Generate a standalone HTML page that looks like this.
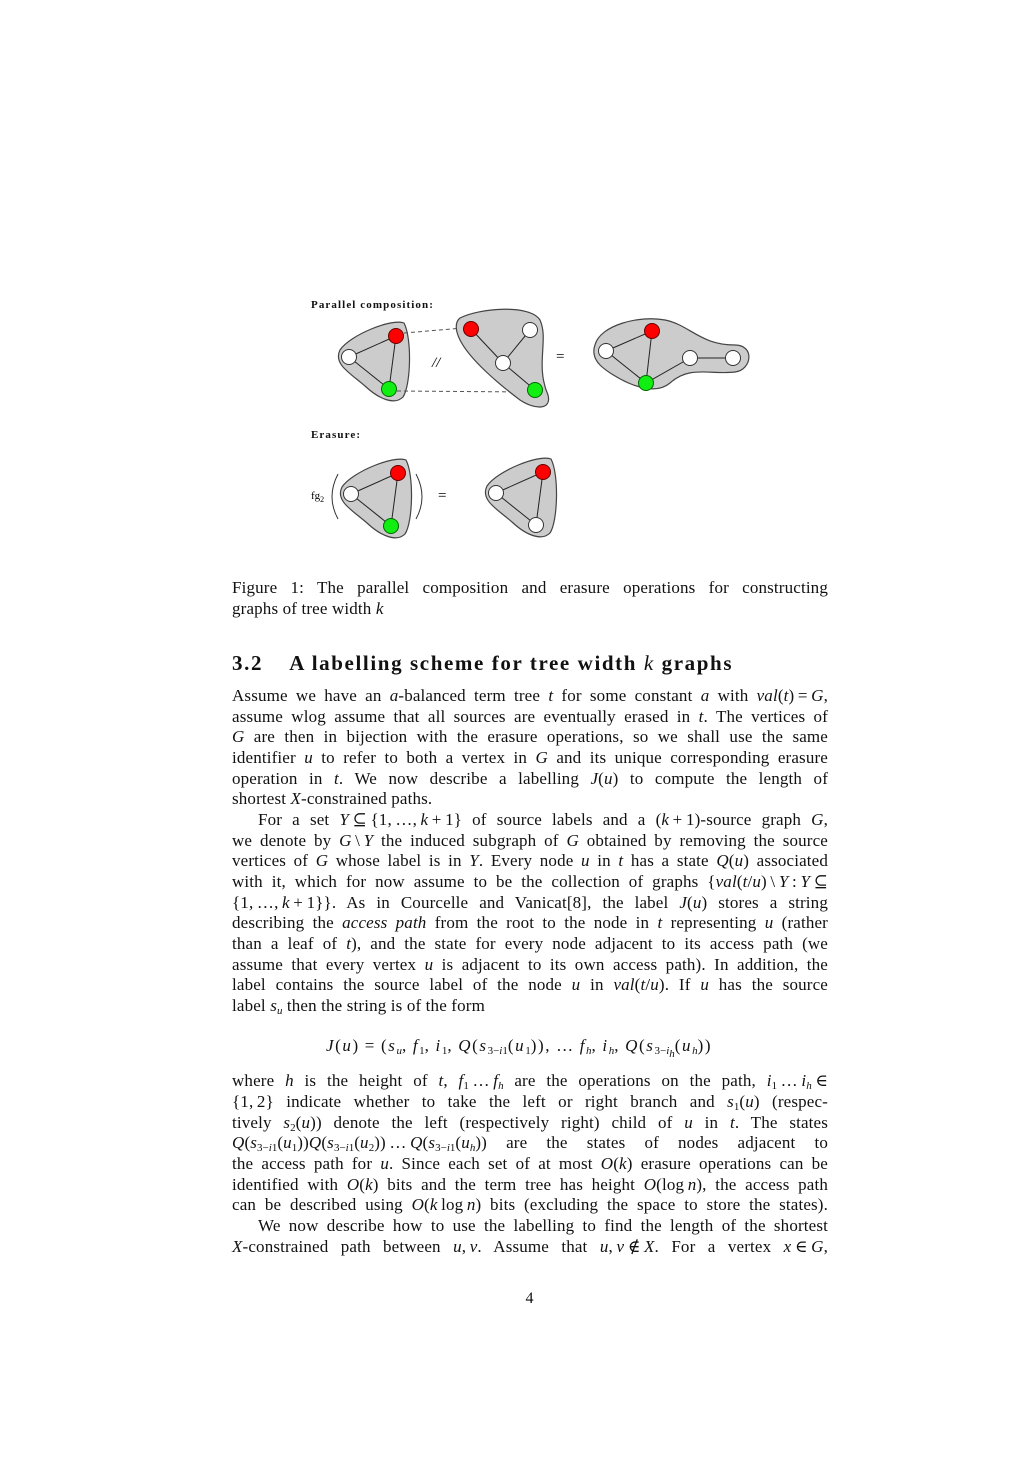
<!DOCTYPE html>
<html><head><meta charset="utf-8">
<style>
html,body{margin:0;padding:0;background:#fff;}
body{width:1031px;height:1459px;position:relative;overflow:hidden;font-family:"Liberation Serif","DejaVu Serif",serif;color:#111;}
.l{position:absolute;left:232px;width:596px;font-size:17px;line-height:20px;white-space:nowrap;text-align:justify;text-align-last:justify;letter-spacing:0.15px;}
.l.n{text-align-last:left;}
.l.ind{left:258px;width:570px;}
i{font-style:italic;}
sub{font-size:11px;vertical-align:-3px;line-height:0;letter-spacing:0;}
.h{position:absolute;left:232px;font-size:21px;font-weight:bold;white-space:nowrap;letter-spacing:1.6px;}
.fl{position:absolute;font-size:11px;font-weight:bold;letter-spacing:1.1px;}
</style></head><body>

<svg width="1031" height="560" style="position:absolute;left:0;top:0" font-family="Liberation Serif, serif">
<defs>
<path id="blobA" d="M340,350 C350,335 392,318 404,323 C412,338 411,385 403,397 C395,405 380,400 365,386 C350,373 333,364 340,350 Z"/>
</defs>
<g>
<use href="#blobA" fill="#ccc" stroke="#444" stroke-width="1.2"/>
<g stroke="#222" stroke-width="1"><line x1="396" y1="336" x2="349" y2="357"/><line x1="396" y1="336" x2="389" y2="389"/><line x1="349" y1="357" x2="389" y2="389"/></g>
<circle cx="349" cy="357" r="7.5" fill="#fff" stroke="#333"/>
<circle cx="396" cy="336" r="7.5" fill="#f00" stroke="#600"/>
<circle cx="389" cy="389" r="7.5" fill="#1e1" stroke="#060"/>
</g>
<g stroke="#555" stroke-dasharray="4,3" stroke-width="1"><line x1="404" y1="333" x2="463" y2="328"/><line x1="397" y1="391" x2="527" y2="392"/></g>
<text x="432" y="367" font-size="15" font-style="italic">//</text>
<text x="556" y="361" font-size="15">=</text>
<g>
<path d="M460,318 C480,308 530,304 540,320 C549,340 535,365 548,395 C552,410 535,410 520,400 C500,385 470,360 460,340 C455,330 455,322 460,318 Z" fill="#ccc" stroke="#444" stroke-width="1.2"/>
<g stroke="#222"><line x1="471" y1="329" x2="503" y2="363"/><line x1="530" y1="330" x2="503" y2="363"/><line x1="503" y1="363" x2="535" y2="390"/></g>
<circle cx="471" cy="329" r="7.5" fill="#f00" stroke="#600"/>
<circle cx="530" cy="330" r="7.5" fill="#fff" stroke="#333"/>
<circle cx="503" cy="363" r="7.5" fill="#fff" stroke="#333"/>
<circle cx="535" cy="390" r="7.5" fill="#1e1" stroke="#060"/>
</g>
<g>
<path d="M595,345 C600,325 640,315 665,320 C690,325 700,345 735,345 C755,345 752,370 735,372 C710,375 690,365 670,383 C650,400 610,375 600,365 C593,358 593,350 595,345 Z" fill="#ccc" stroke="#444" stroke-width="1.2"/>
<g stroke="#222"><line x1="652" y1="331" x2="606" y2="351"/><line x1="652" y1="331" x2="646" y2="383"/><line x1="606" y1="351" x2="646" y2="383"/><line x1="646" y1="383" x2="690" y2="358"/><line x1="690" y1="358" x2="733" y2="358"/></g>
<circle cx="606" cy="351" r="7.5" fill="#fff" stroke="#333"/>
<circle cx="652" cy="331" r="7.5" fill="#f00" stroke="#600"/>
<circle cx="646" cy="383" r="7.5" fill="#1e1" stroke="#060"/>
<circle cx="690" cy="358" r="7.5" fill="#fff" stroke="#333"/>
<circle cx="733" cy="358" r="7.5" fill="#fff" stroke="#333"/>
</g>
<text x="311" y="499" font-size="11">fg<tspan font-size="8" dy="3">2</tspan></text>
<path d="M338,474 Q326,497 338,519" fill="none" stroke="#333"/>
<path d="M416,474 Q428,497 416,519" fill="none" stroke="#333"/>
<g transform="translate(2,137)">
<use href="#blobA" fill="#ccc" stroke="#444" stroke-width="1.2"/>
<g stroke="#222"><line x1="396" y1="336" x2="349" y2="357"/><line x1="396" y1="336" x2="389" y2="389"/><line x1="349" y1="357" x2="389" y2="389"/></g>
<circle cx="349" cy="357" r="7.5" fill="#fff" stroke="#333"/>
<circle cx="396" cy="336" r="7.5" fill="#f00" stroke="#600"/>
<circle cx="389" cy="389" r="7.5" fill="#1e1" stroke="#060"/>
</g>
<text x="438" y="500" font-size="15">=</text>
<g transform="translate(147,136)">
<use href="#blobA" fill="#ccc" stroke="#444" stroke-width="1.2"/>
<g stroke="#222"><line x1="396" y1="336" x2="349" y2="357"/><line x1="396" y1="336" x2="389" y2="389"/><line x1="349" y1="357" x2="389" y2="389"/></g>
<circle cx="349" cy="357" r="7.5" fill="#fff" stroke="#333"/>
<circle cx="396" cy="336" r="7.5" fill="#f00" stroke="#600"/>
<circle cx="389" cy="389" r="7.5" fill="#fff" stroke="#333"/>
</g>
</svg>
<div class="fl" style="left:311px;top:299px">Parallel composition:</div>
<div class="fl" style="left:311px;top:429px">Erasure:</div>

<div class="l" style="top:578px">Figure 1: The parallel composition and erasure operations for constructing</div>
<div class="l n" style="top:599px">graphs of tree width <i>k</i></div>

<div class="h" style="top:651px">3.2&nbsp;&nbsp;&nbsp; A labelling scheme for tree width <i style="font-weight:normal">k</i> graphs</div>

<div>
<div class="l" style="top:686px">Assume we have an <i>a</i>-balanced term tree <i>t</i> for some constant <i>a</i> with <i>val</i>(<i>t</i>)&thinsp;=&thinsp;<i>G</i>,</div>
<div class="l" style="top:707px">assume wlog assume that all sources are eventually erased in <i>t</i>. The vertices of</div>
<div class="l" style="top:727px"><i>G</i> are then in bijection with the erasure operations, so we shall use the same</div>
<div class="l" style="top:748px">identifier <i>u</i> to refer to both a vertex in <i>G</i> and its unique corresponding erasure</div>
<div class="l" style="top:769px">operation in <i>t</i>. We now describe a labelling <i>J</i>(<i>u</i>) to compute the length of</div>
<div class="l n" style="top:789px">shortest <i>X</i>-constrained paths.</div>
</div>
<div>
<div class="l ind" style="top:810px">For a set <i>Y</i>&thinsp;⊆&thinsp;{1,&thinsp;…,&thinsp;<i>k</i>&thinsp;+&thinsp;1} of source labels and a (<i>k</i>&thinsp;+&thinsp;1)-source graph <i>G</i>,</div>
<div class="l" style="top:831px">we denote by <i>G</i>&thinsp;\&thinsp;<i>Y</i> the induced subgraph of <i>G</i> obtained by removing the source</div>
<div class="l" style="top:851px">vertices of <i>G</i> whose label is in <i>Y</i>. Every node <i>u</i> in <i>t</i> has a state <i>Q</i>(<i>u</i>) associated</div>
<div class="l" style="top:872px">with it, which for now assume to be the collection of graphs {<i>val</i>(<i>t</i>/<i>u</i>)&thinsp;\&thinsp;<i>Y</i>&thinsp;:&thinsp;<i>Y</i>&thinsp;⊆</div>
<div class="l" style="top:893px">{1,&thinsp;…,&thinsp;<i>k</i>&thinsp;+&thinsp;1}}. As in Courcelle and Vanicat[8], the label <i>J</i>(<i>u</i>) stores a string</div>
<div class="l" style="top:913px">describing the <i>access path</i> from the root to the node in <i>t</i> representing <i>u</i> (rather</div>
<div class="l" style="top:934px">than a leaf of <i>t</i>), and the state for every node adjacent to its access path (we</div>
<div class="l" style="top:955px">assume that every vertex <i>u</i> is adjacent to its own access path). In addition, the</div>
<div class="l" style="top:975px">label contains the source label of the node <i>u</i> in <i>val</i>(<i>t</i>/<i>u</i>). If <i>u</i> has the source</div>
<div class="l n" style="top:996px">label <i>s<sub>u</sub></i> then the string is of the form</div>
</div>
<div class="l n" style="top:1036px;left:326px;width:420px;letter-spacing:1.6px"><i>J</i>(<i>u</i>)&thinsp;=&thinsp;(<i>s<sub>u</sub></i>,&thinsp;<i>f</i><sub>1</sub>,&thinsp;<i>i</i><sub>1</sub>,&thinsp;<i>Q</i>(<i>s</i><sub>3−<i>i</i>1</sub>(<i>u</i><sub>1</sub>)),&thinsp;…&thinsp;<i>f<sub>h</sub></i>,&thinsp;<i>i<sub>h</sub></i>,&thinsp;<i>Q</i>(<i>s</i><sub>3−<i>i<sub>h</sub></i></sub>(<i>u<sub>h</sub></i>))</div>
<div>
<div class="l" style="top:1071px">where <i>h</i> is the height of <i>t</i>, <i>f</i><sub>1</sub>&thinsp;…&thinsp;<i>f<sub>h</sub></i> are the operations on the path, <i>i</i><sub>1</sub>&thinsp;…&thinsp;<i>i<sub>h</sub></i>&thinsp;∈</div>
<div class="l" style="top:1092px">{1,&thinsp;2} indicate whether to take the left or right branch and <i>s</i><sub>1</sub>(<i>u</i>) (respec-</div>
<div class="l" style="top:1113px">tively <i>s</i><sub>2</sub>(<i>u</i>)) denote the left (respectively right) child of <i>u</i> in <i>t</i>. The states</div>
<div class="l" style="top:1133px"><i>Q</i>(<i>s</i><sub>3−<i>i</i>1</sub>(<i>u</i><sub>1</sub>))<i>Q</i>(<i>s</i><sub>3−<i>i</i>1</sub>(<i>u</i><sub>2</sub>))&thinsp;…&thinsp;<i>Q</i>(<i>s</i><sub>3−<i>i</i>1</sub>(<i>u<sub>h</sub></i>)) are the states of nodes adjacent to</div>
<div class="l" style="top:1154px">the access path for <i>u</i>. Since each set of at most <i>O</i>(<i>k</i>) erasure operations can be</div>
<div class="l" style="top:1175px">identified with <i>O</i>(<i>k</i>) bits and the term tree has height <i>O</i>(log&thinsp;<i>n</i>), the access path</div>
<div class="l" style="top:1195px">can be described using <i>O</i>(<i>k</i>&thinsp;log&thinsp;<i>n</i>) bits (excluding the space to store the states).</div>
</div>
<div>
<div class="l ind" style="top:1216px">We now describe how to use the labelling to find the length of the shortest</div>
<div class="l" style="top:1237px"><i>X</i>-constrained path between <i>u</i>,&thinsp;<i>v</i>. Assume that <i>u</i>,&thinsp;<i>v</i>&thinsp;∉&thinsp;<i>X</i>. For a vertex <i>x</i>&thinsp;∈&thinsp;<i>G</i>,</div>
</div>
<div style="position:absolute;left:0;width:1059px;text-align:center;top:1290px;font-size:16px">4</div>
</body></html>
